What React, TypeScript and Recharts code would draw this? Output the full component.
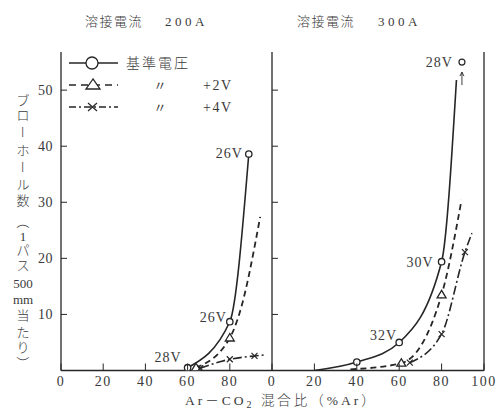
import React from 'react';
import { LineChart, Line, XAxis, YAxis, ReferenceLine, LabelList } from 'recharts';

type Pt = { x: number; y: number; measured?: boolean; v?: string };

// 溶接電流 200A  (x = %Ar, y = blowholes per 500 mm)
const base200: Pt[] = [
  { x: 60, y: 0.5, measured: true, v: '28V' },
  { x: 80, y: 8.7, measured: true, v: '26V' },
  { x: 89, y: 38.6, measured: true, v: '26V' },
];
const plus2V200: Pt[] = [
  { x: 64, y: 0.5, measured: true },
  { x: 80, y: 5.8, measured: true },
  { x: 84.6, y: 10.2 },
  { x: 94.4, y: 27.4 },
];
const plus4V200: Pt[] = [
  { x: 66, y: 0.4, measured: true },
  { x: 80, y: 2.0, measured: true },
  { x: 91.7, y: 2.6, measured: true },
  { x: 97, y: 2.8 },
];

// 溶接電流 300A
const base300: Pt[] = [
  { x: 20, y: 0 },
  { x: 40, y: 1.5, measured: true },
  { x: 60, y: 5.0, measured: true, v: '32V' },
  { x: 80, y: 19.4, measured: true, v: '30V' },
  { x: 87, y: 51.8 },
];
const offScale300: Pt[] = [{ x: 89.6, y: 55, measured: true, v: '28V' }];
const plus2V300: Pt[] = [
  { x: 37, y: 0.2 },
  { x: 61, y: 1.3, measured: true },
  { x: 80, y: 13.5, measured: true },
  { x: 89.4, y: 30.4 },
];
const plus4V300: Pt[] = [
  { x: 65, y: 1.4, measured: true },
  { x: 80, y: 6.5, measured: true },
  { x: 91, y: 21.1, measured: true },
  { x: 94.3, y: 24.5 },
];

const xTicksLeft = [0, 20, 40, 60, 80];
const xTicksRight = [0, 20, 40, 60, 80, 100];
const yTicks = [10, 20, 30, 40, 50];
const Y_MAX = 56.8;

const INK = '#262626';
const TXT = '#3a3a3a';
const FONT = "'Liberation Serif', 'Noto Sans CJK JP', serif";
const DASH = '6 4';
const DASH_DOT = '9 3 2 3';

const XTick = (p: any) => (
  <g>
    <line x1={p.x} y1={p.y} x2={p.x} y2={p.y - 7} stroke={INK} strokeWidth={1} />
    <text x={p.x} y={p.y + 15} textAnchor="middle" fontSize={14} fontFamily={FONT} fill={TXT} letterSpacing={1.5}>
      {p.payload.value}
    </text>
  </g>
);

const YTick = (withLabel: boolean) => (p: any) => (
  <g>
    <line x1={p.x} y1={p.y} x2={p.x + 6} y2={p.y} stroke={INK} strokeWidth={1} />
    {withLabel && (
      <text x={p.x - 8} y={p.y + 5} textAnchor="end" fontSize={14} fontFamily={FONT} fill={TXT} letterSpacing={0.5}>
        {p.payload.value}
      </text>
    )}
  </g>
);

const marker = (kind: 'circle' | 'tri' | 'cross') => (p: any) => {
  const key = `${kind}-${p.index}`;
  if (!p.payload || !p.payload.measured) return <g key={key} />;
  const { cx, cy } = p;
  if (kind === 'circle')
    return <circle key={key} cx={cx} cy={cy} r={3.2} fill="#fff" stroke={INK} strokeWidth={1.3} />;
  if (kind === 'tri')
    return (
      <path key={key} d={`M${cx},${cy - 4.5}L${cx - 4.5},${cy + 3}L${cx + 4.5},${cy + 3}Z`} fill="#fff" stroke={INK} strokeWidth={1.3} />
    );
  return (
    <path key={key} d={`M${cx - 3},${cy - 3}L${cx + 3},${cy + 3}M${cx - 3},${cy + 3}L${cx + 3},${cy - 3}`} stroke={INK} strokeWidth={1.2} />
  );
};

const offScaleMark = (p: any) => (
  <g key={`off-${p.index}`}>
    <circle cx={p.cx} cy={p.cy} r={3} fill="#fff" stroke={INK} strokeWidth={1.2} />
    <line x1={p.cx} y1={p.cy + 23} x2={p.cx} y2={p.cy + 10} stroke={INK} strokeWidth={0.9} />
    <path d={`M${p.cx - 2},${p.cy + 14}L${p.cx},${p.cy + 10}L${p.cx + 2},${p.cy + 14}`} fill="none" stroke={INK} strokeWidth={0.9} />
  </g>
);

const voltLabel = (nudge: Record<number, [number, number]>) => (p: any) => {
  if (!p.value) return null;
  const [dx, dy] = nudge[p.index] ?? [-6, 5];
  return (
    <text key={`l-${p.index}`} x={p.x + dx} y={p.y + dy} textAnchor="end" fontSize={14} fontFamily={FONT} fill={TXT} letterSpacing={1}>
      {p.value}
    </text>
  );
};

const axisLine = { stroke: INK, strokeWidth: 1.3 };

const yTitle = ['ブ', 'ロ', 'ー', 'ホ', 'ー', 'ル', '数', '（', '1', 'パ', 'ス', '500', 'mm', '当', 'た', 'り', '）'];
const yTitlePos = [100, 115, 132, 150, 167, 184, 200, 222, 236, 250, 265, 283, 299, 315, 332, 347, 363];

export default function App() {
  return (
    <div style={{ position: 'absolute', left: 0, top: 0, width: 501, height: 410, background: '#fff', overflow: 'hidden' }}>
      <div style={{ position: 'absolute', left: 0, top: 0 }}>
        <LineChart width={272} height={410} margin={{ top: 52, right: 0, bottom: 9.5, left: 0 }}>
          <XAxis type="number" dataKey="x" domain={[0, 100]} ticks={xTicksLeft} height={30}
            axisLine={axisLine} tickLine={false} tickSize={0} tickMargin={0} tick={XTick} />
          <YAxis type="number" domain={[0, Y_MAX]} ticks={yTicks} width={61} allowDataOverflow
            axisLine={axisLine} tickLine={false} tickSize={0} tickMargin={0} tick={YTick(true)} />
          <Line data={base200} dataKey="y" type="monotone" stroke={INK} strokeWidth={1.6}
            dot={marker('circle')} activeDot={false} isAnimationActive={false}>
            <LabelList dataKey="v" content={voltLabel({ 0: [-6, -6], 1: [-3, 0], 2: [-6, 4] })} />
          </Line>
          <Line data={plus2V200} dataKey="y" type="monotone" stroke={INK} strokeWidth={1.8} strokeDasharray={DASH}
            dot={marker('tri')} activeDot={false} isAnimationActive={false} />
          <Line data={plus4V200} dataKey="y" type="monotone" stroke={INK} strokeWidth={1.6} strokeDasharray={DASH_DOT}
            dot={marker('cross')} activeDot={false} isAnimationActive={false} />
        </LineChart>
      </div>

      <div style={{ position: 'absolute', left: 232, top: 0 }}>
        <LineChart width={269} height={410} margin={{ top: 52, right: 17, bottom: 9.5, left: 0 }}>
          <XAxis type="number" dataKey="x" domain={[0, 100]} ticks={xTicksRight} height={30}
            axisLine={axisLine} tickLine={false} tickSize={0} tickMargin={0} tick={XTick} />
          <YAxis type="number" domain={[0, Y_MAX]} ticks={yTicks} width={40} allowDataOverflow
            axisLine={axisLine} tickLine={false} tickSize={0} tickMargin={0} tick={YTick(false)} />
          <ReferenceLine x={100} stroke={INK} strokeWidth={1.3} />
          <Line data={base300} dataKey="y" type="monotone" stroke={INK} strokeWidth={1.6}
            dot={marker('circle')} activeDot={false} isAnimationActive={false}>
            <LabelList dataKey="v" content={voltLabel({ 2: [-2, -2.5], 3: [-8, 5] })} />
          </Line>
          <Line data={offScale300} dataKey="y" stroke="none" dot={offScaleMark} activeDot={false} isAnimationActive={false}>
            <LabelList dataKey="v" content={voltLabel({ 0: [-9, 5] })} />
          </Line>
          <Line data={plus2V300} dataKey="y" type="monotone" stroke={INK} strokeWidth={1.8} strokeDasharray={DASH}
            dot={marker('tri')} activeDot={false} isAnimationActive={false} />
          <Line data={plus4V300} dataKey="y" type="monotone" stroke={INK} strokeWidth={1.6} strokeDasharray={DASH_DOT}
            dot={marker('cross')} activeDot={false} isAnimationActive={false} />
        </LineChart>
      </div>

      <svg width={501} height={410} style={{ position: 'absolute', left: 0, top: 0, pointerEvents: 'none' }}
        fontFamily={FONT} fill={TXT}>
        {/* panel titles */}
        <text x={85} y={26} fontSize={13} letterSpacing={1.5} fontWeight={300}>溶接電流</text>
        <text x={165} y={26} fontSize={13} letterSpacing={3.5}>200A</text>
        <text x={297} y={26} fontSize={13} letterSpacing={1.5} fontWeight={300}>溶接電流</text>
        <text x={378} y={26} fontSize={13} letterSpacing={3.5}>300A</text>

        {/* legend */}
        <g stroke={INK} fill="#fff">
          <line x1={69} y1={63} x2={118} y2={63} strokeWidth={1.5} />
          <circle cx={92} cy={63} r={6} strokeWidth={1.3} />
          <line x1={69} y1={85} x2={118} y2={85} strokeWidth={1.7} strokeDasharray="7 5" />
          <path d="M93,79L86,89L100,89Z" strokeWidth={1.3} />
          <line x1={69} y1={107} x2={118} y2={107} strokeWidth={1.4} strokeDasharray="7 3 2 3" />
          <path d="M88,103L97,111M88,111L97,103" strokeWidth={1.2} fill="none" />
        </g>
        <text x={126} y={68} fontSize={14} letterSpacing={2} fontWeight={300}>基準電圧</text>
        <text x={160} y={90} fontSize={13} textAnchor="middle">〃</text>
        <text x={203} y={90} fontSize={14} letterSpacing={1.5}>+2V</text>
        <text x={160} y={112} fontSize={13} textAnchor="middle">〃</text>
        <text x={203} y={112} fontSize={14} letterSpacing={1.5}>+4V</text>

        {/* y axis title, written vertically */}
        {yTitle.map((s, i) => {
          const cy = yTitlePos[i];
          const rotate = s === 'ー' || s === '（' || s === '）';
          return (
            <text key={i} x={23} y={cy + 5} fontSize={13} textAnchor="middle" fontWeight={300}
              transform={rotate ? `rotate(90 23 ${cy})` : undefined}>
              {s}
            </text>
          );
        })}

        {/* x axis title */}
        <text x={185} y={405} fontSize={13.5} letterSpacing={3} fontWeight={300}>
          Ar－CO<tspan fontSize={10} dy={3}>2</tspan><tspan dy={-3}> 混合比（%Ar）</tspan>
        </text>
      </svg>
    </div>
  );
}
